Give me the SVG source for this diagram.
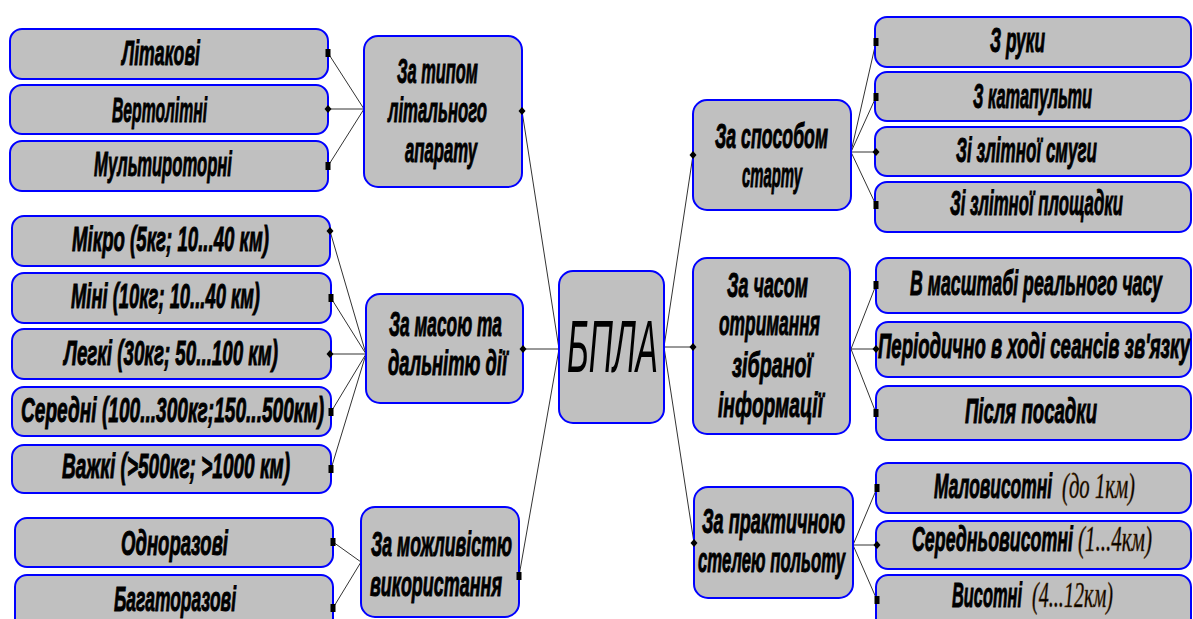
<svg xmlns="http://www.w3.org/2000/svg" xmlns:xlink="http://www.w3.org/1999/xlink" width="1193" height="619" viewBox="0 0 1193 619">
<style>
.box{fill:#c0c0c0;stroke:#0000ff;stroke-width:2}
.t{font-family:"Liberation Sans Narrow","Liberation Sans",Arial,sans-serif;font-weight:bold;font-style:italic;font-size:35px;fill:#000;stroke:#000;stroke-width:1}
.p{font-family:"Liberation Serif","Times New Roman",serif;font-style:italic;font-size:35px;fill:#000;stroke:#5a3408;stroke-width:0.6}
.big{font-family:"Liberation Sans Narrow","Liberation Sans",Arial,sans-serif;font-style:italic;font-size:75px;fill:#000}
.c{stroke:#333;stroke-width:1;fill:none}
</style>
<defs>
<rect id="sq" x="-2.5" y="-4" width="5" height="8" fill="#000"/>
<polygon id="dm" points="0,-4 3.5,0 0,4 -3.5,0" fill="#000"/>
</defs>
<rect width="1193" height="619" fill="#fff"/>

<g id="connectors">
<path class="c" d="M364,109 L328,53 M364,109 L328,109 M364,109 L328,166"/>
<path class="c" d="M366,354 L330,231 M366,354 L331,298 M366,354 L330,354 M366,354 L331,412 M366,354 L331,469"/>
<path class="c" d="M361,562 L333,542 M361,562 L333,608"/>
<path class="c" d="M559,349 L522,111 M559,349 L523,349 M559,349 L519,576"/>
<path class="c" d="M664,347 L693,155 M664,347 L693,347 M664,347 L694,543"/>
<path class="c" d="M851,152 L876,42 M851,152 L876,97 M851,152 L876,152 M851,152 L876,205"/>
<path class="c" d="M851,349 L876,285 M851,349 L876,349 M851,349 L876,413"/>
<path class="c" d="M853,545 L877,488 M853,545 L877,545 M853,545 L877,600"/>
</g>

<g id="n-litakovi"><rect class="box" x="10" y="29" width="318" height="50" rx="12"/><text class="t" x="122" y="65" textLength="78" lengthAdjust="spacingAndGlyphs">Літакові</text><use xlink:href="#sq" x="328" y="53"/></g>
<g id="n-vertolitni"><rect class="box" x="10" y="85" width="318" height="49" rx="12"/><text class="t" x="112" y="122" textLength="95" lengthAdjust="spacingAndGlyphs">Вертолітні</text><use xlink:href="#dm" x="328" y="109"/></g>
<g id="n-multy"><rect class="box" x="10" y="141" width="318" height="50" rx="12"/><text class="t" x="94" y="176" textLength="138" lengthAdjust="spacingAndGlyphs">Мультироторні</text><use xlink:href="#sq" x="328" y="166"/></g>
<g id="n-typ"><rect class="box" x="364" y="36" width="158" height="151" rx="14"/><text class="t" x="397" y="83" textLength="81" lengthAdjust="spacingAndGlyphs">За типом</text><text class="t" x="388" y="122" textLength="99" lengthAdjust="spacingAndGlyphs">літального</text><text class="t" x="405" y="162" textLength="72" lengthAdjust="spacingAndGlyphs">апарату</text><use xlink:href="#dm" x="522" y="111"/></g>

<g id="n-mikro"><rect class="box" x="12" y="216" width="318" height="50" rx="12"/><text class="t" x="72" y="251" textLength="197" lengthAdjust="spacingAndGlyphs">Мікро (5кг; 10...40 км)</text><use xlink:href="#dm" x="330" y="231"/></g>
<g id="n-mini"><rect class="box" x="12" y="273" width="319" height="50" rx="12"/><text class="t" x="71" y="308" textLength="189" lengthAdjust="spacingAndGlyphs">Міні (10кг; 10...40 км)</text><use xlink:href="#sq" x="331" y="298"/></g>
<g id="n-legki"><rect class="box" x="12" y="329" width="319" height="50" rx="12"/><text class="t" x="64" y="365" textLength="214" lengthAdjust="spacingAndGlyphs">Легкі (30кг; 50...100 км)</text><use xlink:href="#dm" x="330" y="354"/></g>
<g id="n-seredni"><rect class="box" x="12" y="387" width="319" height="49" rx="12"/><text class="t" x="21" y="422" textLength="303" lengthAdjust="spacingAndGlyphs">Середні (100...300кг;150...500км)</text><use xlink:href="#sq" x="331" y="412"/></g>
<g id="n-vazhki"><rect class="box" x="12" y="445" width="319" height="48" rx="12"/><text class="t" x="62" y="478" textLength="228" lengthAdjust="spacingAndGlyphs">Важкі (&gt;500кг; &gt;1000 км)</text><use xlink:href="#sq" x="331" y="469"/></g>
<g id="n-masa"><rect class="box" x="366" y="294" width="157" height="109" rx="14"/><text class="t" x="389" y="336" textLength="113" lengthAdjust="spacingAndGlyphs">За масою та</text><text class="t" x="388" y="375" textLength="119" lengthAdjust="spacingAndGlyphs">дальнітю дії</text><use xlink:href="#dm" x="523" y="349"/></g>

<g id="n-odno"><rect class="box" x="15" y="518" width="318" height="49" rx="12"/><text class="t" x="121" y="555" textLength="107" lengthAdjust="spacingAndGlyphs">Одноразові</text><use xlink:href="#sq" x="333" y="542"/></g>
<g id="n-bagato"><rect class="box" x="15" y="575" width="318" height="60" rx="12"/><text class="t" x="114" y="611" textLength="122" lengthAdjust="spacingAndGlyphs">Багаторазові</text><use xlink:href="#sq" x="333" y="608"/></g>
<g id="n-mozhl"><rect class="box" x="361" y="507" width="158" height="110" rx="14"/><text class="t" x="371" y="556" textLength="141" lengthAdjust="spacingAndGlyphs">За можливістю</text><text class="t" x="370" y="596" textLength="132" lengthAdjust="spacingAndGlyphs">використання</text><use xlink:href="#sq" x="519" y="576"/></g>

<g id="n-bpla"><rect class="box" x="559" y="271" width="105" height="152" rx="14"/><text class="big" x="567" y="372" textLength="91" lengthAdjust="spacingAndGlyphs">БПЛА</text></g>

<g id="n-sposib"><rect class="box" x="693" y="100" width="158" height="110" rx="14"/><text class="t" x="715" y="148" textLength="113" lengthAdjust="spacingAndGlyphs">За способом</text><text class="t" x="742" y="187" textLength="60" lengthAdjust="spacingAndGlyphs">старту</text><use xlink:href="#dm" x="693" y="155"/></g>
<g id="n-ruky"><rect class="box" x="875" y="17" width="316" height="50" rx="12"/><text class="t" x="990" y="52" textLength="55" lengthAdjust="spacingAndGlyphs">З руки</text><use xlink:href="#sq" x="876" y="42"/></g>
<g id="n-katap"><rect class="box" x="875" y="72" width="316" height="49" rx="12"/><text class="t" x="973" y="108" textLength="119" lengthAdjust="spacingAndGlyphs">З катапульти</text><use xlink:href="#sq" x="876" y="97"/></g>
<g id="n-smuga"><rect class="box" x="875" y="127" width="316" height="49" rx="12"/><text class="t" x="956" y="162" textLength="141" lengthAdjust="spacingAndGlyphs">Зі злітної смуги</text><use xlink:href="#dm" x="876" y="152"/></g>
<g id="n-ploshch"><rect class="box" x="875" y="182" width="316" height="50" rx="12"/><text class="t" x="950" y="215" textLength="173" lengthAdjust="spacingAndGlyphs">Зі злітної площадки</text><use xlink:href="#sq" x="876" y="205"/></g>

<g id="n-chas"><rect class="box" x="693" y="258" width="157" height="176" rx="14"/><text class="t" x="727" y="297" textLength="81" lengthAdjust="spacingAndGlyphs">За часом</text><text class="t" x="719" y="335" textLength="101" lengthAdjust="spacingAndGlyphs">отримання</text><text class="t" x="732" y="377" textLength="80" lengthAdjust="spacingAndGlyphs">зібраної</text><text class="t" x="718" y="417" textLength="105" lengthAdjust="spacingAndGlyphs">інформації</text><use xlink:href="#dm" x="693" y="347"/></g>
<g id="n-realtime"><rect class="box" x="876" y="258" width="315" height="55" rx="12"/><text class="t" x="910" y="295" textLength="252" lengthAdjust="spacingAndGlyphs">В масштабі реального часу</text><use xlink:href="#sq" x="876" y="285"/></g>
<g id="n-periodic"><rect class="box" x="876" y="322" width="315" height="55" rx="12"/><text class="t" x="878" y="358" textLength="312" lengthAdjust="spacingAndGlyphs">Періодично в ході сеансів зв'язку</text><use xlink:href="#dm" x="876" y="349"/></g>
<g id="n-pislia"><rect class="box" x="876" y="386" width="315" height="54" rx="12"/><text class="t" x="965" y="423" textLength="132" lengthAdjust="spacingAndGlyphs">Після посадки</text><use xlink:href="#sq" x="876" y="413"/></g>

<g id="n-stelia"><rect class="box" x="694" y="487" width="159" height="111" rx="14"/><text class="t" x="702" y="533" textLength="143" lengthAdjust="spacingAndGlyphs">За практичною</text><text class="t" x="698" y="572" textLength="147" lengthAdjust="spacingAndGlyphs">стелею польоту</text><use xlink:href="#dm" x="694" y="543"/></g>
<g id="n-malo"><rect class="box" x="876" y="463" width="315" height="50" rx="12"/><text class="t" x="934" y="498" textLength="118" lengthAdjust="spacingAndGlyphs">Маловисотні</text><text class="p" x="1062" y="498" textLength="73" lengthAdjust="spacingAndGlyphs">(до 1км)</text><use xlink:href="#sq" x="877" y="488"/></g>
<g id="n-seredn"><rect class="box" x="876" y="521" width="315" height="48" rx="12"/><text class="t" x="912" y="551" textLength="161" lengthAdjust="spacingAndGlyphs">Середньовисотні</text><text class="p" x="1078" y="551" textLength="74" lengthAdjust="spacingAndGlyphs">(1...4км)</text><use xlink:href="#dm" x="877" y="545"/></g>
<g id="n-vysot"><rect class="box" x="876" y="575" width="315" height="60" rx="12"/><text class="t" x="952" y="607" textLength="70" lengthAdjust="spacingAndGlyphs">Висотні</text><text class="p" x="1032" y="607" textLength="81" lengthAdjust="spacingAndGlyphs">(4...12км)</text><use xlink:href="#sq" x="877" y="600"/></g>
</svg>
